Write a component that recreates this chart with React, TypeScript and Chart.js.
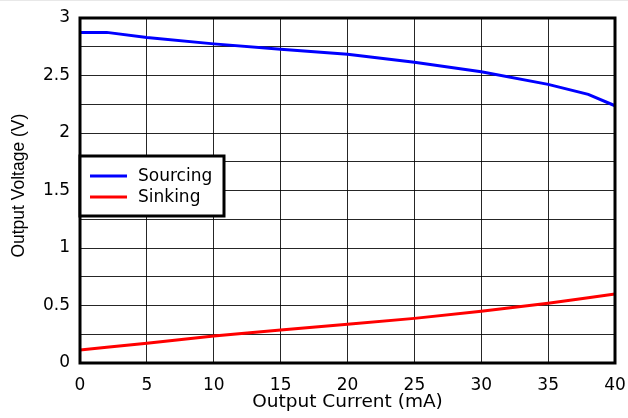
import React, { useEffect, useRef } from "react";
import { Chart, registerables } from "chart.js";

Chart.register(...registerables);

const currentMA = [0, 2, 5, 10, 15, 20, 25, 30, 35, 38, 40];
const sourcingV = [2.875, 2.875, 2.83, 2.775, 2.728, 2.684, 2.615, 2.533, 2.423, 2.336, 2.237];
const sinkingV = [0.113, 0.136, 0.171, 0.235, 0.287, 0.336, 0.388, 0.449, 0.519, 0.568, 0.6];
const seriesLabels = ["Sourcing", "Sinking"];
const seriesColors = ["#0000ff", "#ff0000"];
const xTitle = "Output Current (mA)";
const yTitle = "Output Voltage (V)";

const FONT = "'DejaVu Sans', sans-serif";

const framePlugin = {
  id: "frameAndLegend",
  afterDraw(chart: any) {
    const { ctx, chartArea } = chart;
    ctx.save();
    ctx.strokeStyle = "#000";
    ctx.lineWidth = 3;
    ctx.strokeRect(chartArea.left, chartArea.top, chartArea.right - chartArea.left, chartArea.bottom - chartArea.top);

    // legend box
    const bx = chartArea.left;
    const by = 156;
    const bw = 144;
    const bh = 60;
    ctx.fillStyle = "#fff";
    ctx.fillRect(bx, by, bw, bh);
    ctx.lineWidth = 3;
    ctx.strokeRect(bx, by, bw, bh);
    ctx.font = "17px " + FONT;
    ctx.textBaseline = "middle";
    ctx.textAlign = "left";
    chart.data.datasets.forEach((ds: any, i: number) => {
      const y = 176 + i * 21;
      ctx.strokeStyle = ds.borderColor;
      ctx.lineWidth = 3;
      ctx.beginPath();
      ctx.moveTo(bx + 10, y);
      ctx.lineTo(bx + 47, y);
      ctx.stroke();
      ctx.fillStyle = "#000";
      ctx.fillText(ds.label, bx + 58, y + 1);
    });
    ctx.restore();
  },
};

export default function App() {
  const ref = useRef<HTMLCanvasElement>(null);
  useEffect(() => {
    const canvas = ref.current!;
    const chart = new Chart(canvas, {
      type: "line",
      data: {
        datasets: [
          {
            label: seriesLabels[0],
            data: currentMA.map((x, i) => ({ x, y: sourcingV[i] })),
            borderColor: seriesColors[0],
            borderWidth: 3,
            pointRadius: 0,
            tension: 0,
            fill: false,
          },
          {
            label: seriesLabels[1],
            data: currentMA.map((x, i) => ({ x, y: sinkingV[i] })),
            borderColor: seriesColors[1],
            borderWidth: 3,
            pointRadius: 0,
            tension: 0,
            fill: false,
          },
        ],
      },
      options: {
        responsive: false,
        animation: false,
        layout: { padding: { left: 0, right: 13, top: 18, bottom: 0 } },
        plugins: { legend: { display: false }, tooltip: { enabled: false } },
        scales: {
          x: {
            type: "linear",
            min: 0,
            max: 40,
            afterFit: (s: any) => {
              s.height = 55;
              s.paddingLeft = 0;
              s.paddingRight = 0;
            },
            ticks: {
              stepSize: 5,
              color: "#000",
              font: { family: FONT, size: 17 },
              padding: 12,
              maxRotation: 0,
            },
            grid: { color: "rgba(0,0,0,0.85)", lineWidth: 1, drawTicks: false },
            border: { display: false },
            title: {
              display: true,
              text: xTitle,
              color: "#000",
              font: { family: FONT, size: 18.5 },
              padding: { top: 0, bottom: 5 },
            },
          },
          y: {
            type: "linear",
            min: 0,
            max: 3,
            afterFit: (s: any) => {
              s.width = 80;
              s.paddingTop = 0;
              s.paddingBottom = 0;
            },
            ticks: {
              stepSize: 0.25,
              color: "#000",
              font: { family: FONT, size: 17 },
              padding: 10,
              callback: (v: any) => (Math.abs((v * 2) % 1) < 1e-6 ? String(v) : ""),
            },
            grid: { color: "rgba(0,0,0,0.85)", lineWidth: 1, drawTicks: false },
            border: { display: false },
            title: {
              display: true,
              text: "  " + yTitle,
              color: "#000",
              font: { family: "'Liberation Sans', Arial, sans-serif", size: 17.5 },
              padding: { top: 9, bottom: 0 },
            },
          },
        },
      },
      plugins: [framePlugin],
    } as any);
    return () => chart.destroy();
  }, []);
  return (
    <div
      style={{
        position: "absolute",
        left: 0,
        top: 0,
        width: 628,
        height: 418,
        background: "#fff",
      }}
    >
      <div style={{ position: "absolute", left: 0, top: 0, width: 628, height: 1, background: "#e8e8e8" }} />
      <canvas ref={ref} width={628} height={418} style={{ display: "block" }} />
    </div>
  );
}
